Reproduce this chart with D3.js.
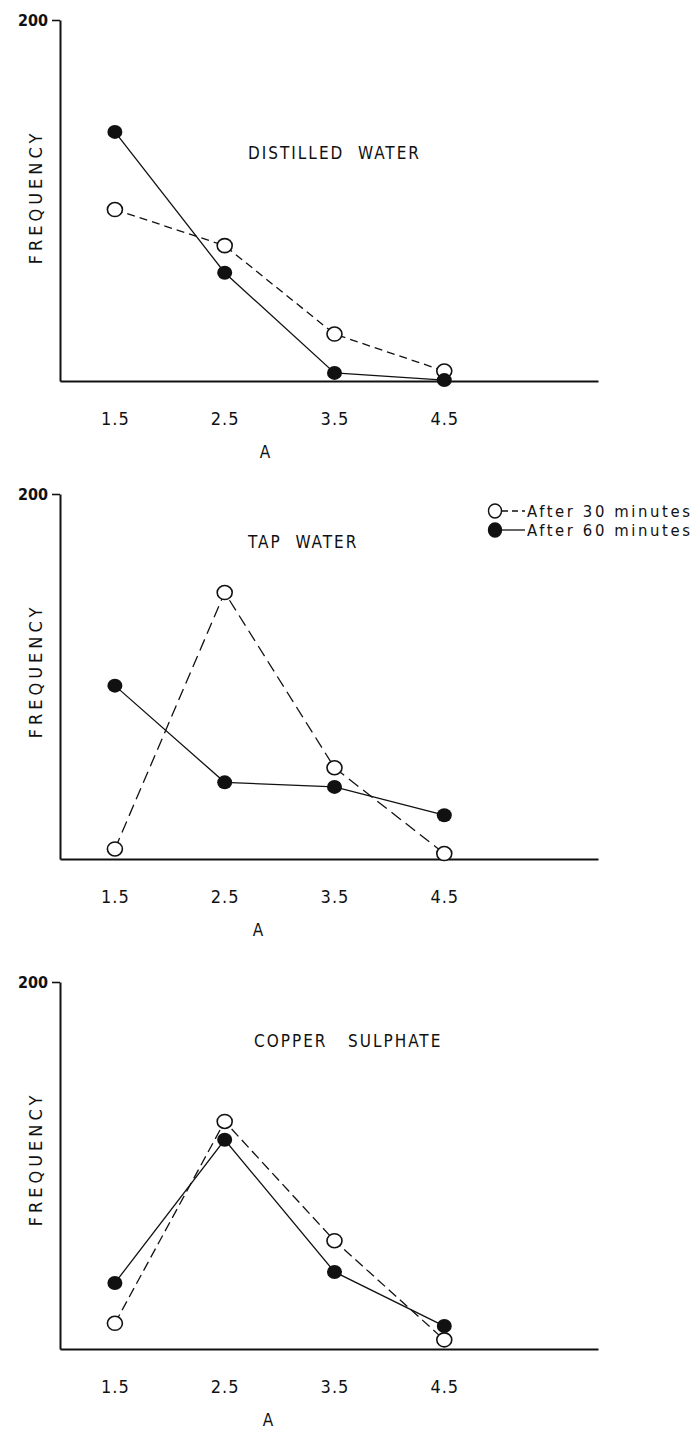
<!DOCTYPE html>
<html>
<head>
<meta charset="utf-8">
<script src="https://cdn.jsdelivr.net/npm/d3@7"></script>
<style>
  body { margin: 0; background: #fff; }
  svg text { font-family: "DejaVu Sans Condensed", "DejaVu Sans", sans-serif; fill: #111; }
</style>
</head>
<body>
<div id="chart"></div>
<script>
// x positions of the classes (A) and the y extent of every panel
const xTicks = [1.5, 2.5, 3.5, 4.5];
const yMax = 200;

// frequencies
const distilled30 = [95, 75, 26, 5.5];
const distilled60 = [138, 60, 4.5, 0.5];
const tap30 = [5.5, 146, 50, 3];
const tap60 = [95, 42, 39.5, 24];
const copper30 = [14, 124, 59, 5];
const copper60 = [36, 114, 42, 12.5];

const panelTitles = ["DISTILLED  WATER", "TAP  WATER", "COPPER   SULPHATE"];
const legendLabels = ["After 30 minutes", "After 60 minutes"];

const W = 700, H = 1430;

// layout of the three stacked plots
const panels = [
    { top: 20, bottom: 381, title: panelTitles[0], tx: 248, ty: 153, ax: 265, dash: "8,5", s30: distilled30, s60: distilled60 },
    { top: 494, bottom: 859, title: panelTitles[1], tx: 248, ty: 542, ax: 258, dash: "12,6", s30: tap30, s60: tap60 },
    { top: 982, bottom: 1349, title: panelTitles[2], tx: 254, ty: 1041, ax: 268, dash: "10,5", s30: copper30, s60: copper60 }
];

const svg = d3.select("#chart")
    .append("svg")
    .attr("width", W)
    .attr("height", H);

const x = d3.scaleLinear().domain([1, 5.9]).range([60, 598]);

panels.forEach(function (p) {
    const y = d3.scaleLinear().domain([0, yMax]).range([p.bottom, p.top]);
    const g = svg.append("g");

    // y axis with a single 200 tick
    const yAxis = g.append("g")
        .attr("transform", `translate(${x.range()[0]},0)`)
        .call(d3.axisLeft(y).tickValues([yMax]).tickSize(8).tickSizeOuter(0).tickPadding(4));
    yAxis.select(".domain").attr("stroke", "#111").attr("stroke-width", 2);
    yAxis.selectAll(".tick line").attr("stroke", "#111").attr("stroke-width", 1.6);
    yAxis.selectAll(".tick text")
        .attr("font-size", 16)
        .attr("font-weight", "bold")
        .style("font-family", "'DejaVu Sans Condensed', 'DejaVu Sans', sans-serif")
        .attr("fill", "#111");

    // x axis, labels only
    const xAxis = g.append("g")
        .attr("transform", `translate(0,${p.bottom})`)
        .call(d3.axisBottom(x).tickValues(xTicks).tickSize(0).tickSizeOuter(0).tickPadding(31).tickFormat(d3.format(".1f")));
    xAxis.select(".domain").attr("stroke", "#111").attr("stroke-width", 2.2);
    xAxis.selectAll(".tick text")
        .attr("font-size", 18)
        .attr("letter-spacing", 1)
        .style("font-family", "'DejaVu Sans Condensed', 'DejaVu Sans', sans-serif")
        .attr("fill", "#111");

    g.append("text")
        .attr("x", p.ax)
        .attr("y", p.bottom + 71)
        .attr("text-anchor", "middle")
        .attr("dominant-baseline", "central")
        .attr("font-size", 17)
        .text("A");

    g.append("text")
        .attr("transform", `translate(35,${p.top + 177}) rotate(-90)`)
        .attr("text-anchor", "middle")
        .attr("dominant-baseline", "central")
        .attr("font-size", 18)
        .attr("letter-spacing", 4)
        .text("FREQUENCY");

    g.append("text")
        .attr("x", p.tx)
        .attr("y", p.ty)
        .attr("dominant-baseline", "central")
        .attr("font-size", 17)
        .attr("letter-spacing", 2)
        .style("white-space", "pre")
        .text(p.title);

    const line = d3.line()
        .x(function (d, i) { return x(xTicks[i]); })
        .y(function (d) { return y(d); });

    g.append("path")
        .attr("d", line(p.s30))
        .attr("fill", "none")
        .attr("stroke", "#111")
        .attr("stroke-width", 1.3)
        .attr("stroke-dasharray", p.dash);

    g.append("path")
        .attr("d", line(p.s60))
        .attr("fill", "none")
        .attr("stroke", "#111")
        .attr("stroke-width", 1.3);

    g.selectAll(".open")
        .data(p.s30)
        .enter()
        .append("ellipse")
        .attr("class", "open")
        .attr("cx", function (d, i) { return x(xTicks[i]); })
        .attr("cy", function (d) { return y(d); })
        .attr("rx", 7.5)
        .attr("ry", 7)
        .attr("fill", "#fff")
        .attr("stroke", "#111")
        .attr("stroke-width", 1.6);

    g.selectAll(".filled")
        .data(p.s60)
        .enter()
        .append("ellipse")
        .attr("class", "filled")
        .attr("cx", function (d, i) { return x(xTicks[i]); })
        .attr("cy", function (d) { return y(d); })
        .attr("rx", 7.5)
        .attr("ry", 7)
        .attr("fill", "#111");
});

// legend beside the tap water panel
const legend = svg.append("g").attr("transform", "translate(495,511)");
legendLabels.forEach(function (label, i) {
    const row = legend.append("g").attr("transform", `translate(0,${i * 19})`);
    row.append("line")
        .attr("x1", 7).attr("x2", 30)
        .attr("y1", 0).attr("y2", 0)
        .attr("stroke", "#111")
        .attr("stroke-width", 1.3)
        .attr("stroke-dasharray", i === 0 ? "6,4" : null);
    row.append("ellipse")
        .attr("rx", 6.5).attr("ry", 7)
        .attr("fill", i === 0 ? "#fff" : "#111")
        .attr("stroke", "#111")
        .attr("stroke-width", 1.4);
    row.append("text")
        .attr("x", 32)
        .attr("y", 0)
        .attr("dominant-baseline", "central")
        .attr("font-size", 16.5)
        .attr("letter-spacing", 2.6)
        .text(label);
});
</script>
</body>
</html>
